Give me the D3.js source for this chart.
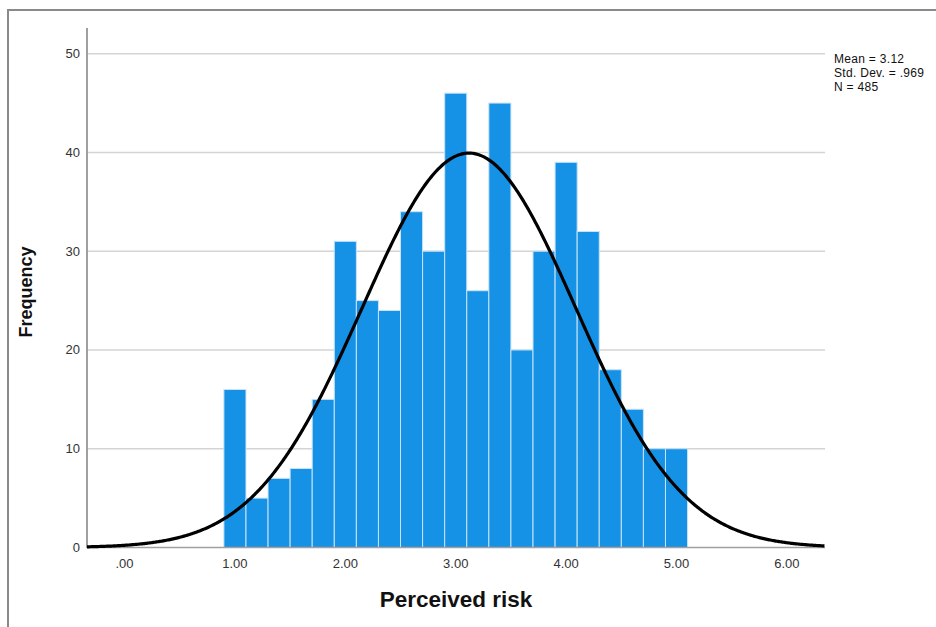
<!DOCTYPE html>
<html><head><meta charset="utf-8">
<script src="https://cdn.jsdelivr.net/npm/d3@7"></script>
<style>body{margin:0;background:#fff}svg{display:block}</style>
</head><body>
<script>
// Histogram data (bin width 0.2, bins centred on 1.0 ... 5.0)
const binStarts = [0.9,1.1,1.3,1.5,1.7,1.9,2.1,2.3,2.5,2.7,2.9,3.1,3.3,3.5,3.7,3.9,4.1,4.3,4.5,4.7,4.9];
const binWidth = 0.2;
const frequencies = [16,5,7,8,15,31,25,24,34,30,46,26,45,20,30,39,32,18,14,10,10];
const xTicks = [0,1,2,3,4,5,6];
const yTicks = [0,10,20,30,40,50];
const statMean = 3.12, statSD = 0.969, statN = 485;
const statLines = ["Mean = 3.12","Std. Dev. = .969","N = 485"];

const W = 936, H = 627;
const svg = d3.select("body").append("svg").attr("width", W).attr("height", H);
const font = "Arial, 'Liberation Sans', sans-serif";

// outer frame
svg.append("rect").attr("x",8).attr("y",10).attr("width",940).attr("height",630)
  .attr("fill","none").attr("stroke","#8a8a8a").attr("stroke-width",2);

const x = d3.scaleLinear().domain([-0.34, 6.345]).range([87, 825]);
const y = d3.scaleLinear().domain([0, 52.6]).range([547.5, 28]);

// gridlines
svg.append("g").selectAll("line").data(yTicks.filter(d=>d>0)).join("line")
  .attr("x1",87).attr("x2",825).attr("y1",d=>y(d)).attr("y2",d=>y(d))
  .attr("stroke","#d4d4d4").attr("stroke-width",1.5);

// bars
svg.append("g").selectAll("rect").data(frequencies).join("rect")
  .attr("x",(d,i)=>x(binStarts[i]))
  .attr("width",(d,i)=>x(binStarts[i]+binWidth)-x(binStarts[i]))
  .attr("y",d=>y(d)).attr("height",d=>y(0)-y(d))
  .attr("fill","#1591e6").attr("stroke","#c9e3f8").attr("stroke-width",1);

// axes lines
svg.append("line").attr("x1",87).attr("x2",87).attr("y1",28).attr("y2",548)
  .attr("stroke","#a0a0a0").attr("stroke-width",2);
svg.append("line").attr("x1",87).attr("x2",825).attr("y1",547.5).attr("y2",547.5)
  .attr("stroke","#a0a0a0").attr("stroke-width",1.5);

// y tick labels
svg.append("g").selectAll("text").data(yTicks).join("text")
  .attr("x",80).attr("y",d=>y(d)+4.5).attr("text-anchor","end")
  .attr("font-family",font).attr("font-size",13).attr("fill","#333")
  .text(d=>d);

// x tick labels
const fmt = d => d3.format(".2f")(d).replace(/^0/,"");
svg.append("g").selectAll("text").data(xTicks).join("text")
  .attr("x",d=>x(d)).attr("y",568).attr("text-anchor","middle")
  .attr("font-family",font).attr("font-size",13).attr("fill","#333")
  .text(fmt);

// normal curve
const xs = d3.range(-0.34, 6.3451, 0.01);
const pdf = v => statN*binWidth/(statSD*Math.sqrt(2*Math.PI))*Math.exp(-0.5*((v-statMean)/statSD)**2);
svg.append("path").datum(xs)
  .attr("d", d3.line().x(d=>x(d)).y(d=>y(pdf(d))))
  .attr("fill","none").attr("stroke","#000").attr("stroke-width",3.2);

// stats text
svg.append("g").selectAll("text").data(statLines).join("text")
  .attr("x",834).attr("y",(d,i)=>63+i*13.8)
  .attr("font-family",font).attr("font-size",12).attr("fill","#111")
  .attr("letter-spacing",0.3)
  .text(d=>d);

// axis titles
svg.append("text").attr("x",456).attr("y",607).attr("text-anchor","middle")
  .attr("font-family",font).attr("font-size",22.5).attr("font-weight","bold").attr("fill","#111")
  .text("Perceived risk");
svg.append("text").attr("transform","translate(32,292) rotate(-90)").attr("text-anchor","middle")
  .attr("font-family",font).attr("font-size",18).attr("font-weight","bold").attr("fill","#111")
  .text("Frequency");
</script>
</body></html>
